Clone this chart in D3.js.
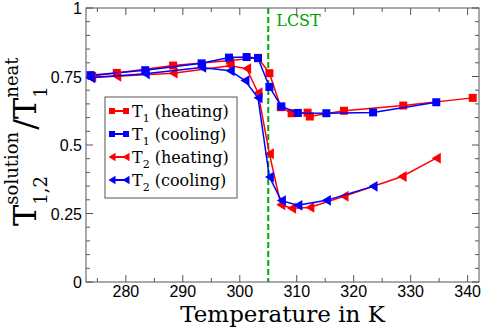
<!DOCTYPE html>
<html><head><meta charset="utf-8">
<script src="https://cdn.jsdelivr.net/npm/d3@7"></script>
<style>
body{margin:0;background:#fff;}
svg{display:block;}
.serif{font-family:"DejaVu Serif",serif;}
.sans{font-family:"Liberation Sans",Arial,sans-serif;}
</style></head>
<body>
<svg id="c" width="484" height="330"></svg>
<script>
// ---- data ----
const t1HeatT = [274.0, 278.4, 288.3, 298.3, 303.2, 305.2, 307.2, 309.1, 311.9, 312.3, 318.3, 328.7, 340.9];
const t1HeatV = [0.752, 0.763, 0.790, 0.808, 0.818, 0.762, 0.638, 0.616, 0.618, 0.604, 0.625, 0.644, 0.672];
const t1CoolT = [273.8, 283.4, 293.3, 298.1, 301.2, 303.2, 305.2, 307.3, 310.2, 315.2, 323.4, 334.5];
const t1CoolV = [0.755, 0.773, 0.798, 0.819, 0.821, 0.817, 0.712, 0.641, 0.617, 0.616, 0.619, 0.656];
const t2HeatT = [274.0, 278.4, 288.3, 298.3, 301.2, 303.2, 305.2, 307.2, 309.1, 312.3, 318.3, 328.5, 334.5];
const t2HeatV = [0.748, 0.751, 0.762, 0.789, 0.779, 0.691, 0.468, 0.282, 0.269, 0.272, 0.313, 0.385, 0.452];
const t2CoolT = [273.8, 283.4, 293.3, 298.3, 300.9, 303.2, 305.2, 307.3, 310.2, 315.2, 323.4];
const t2CoolV = [0.745, 0.760, 0.783, 0.771, 0.735, 0.672, 0.383, 0.297, 0.280, 0.298, 0.349];
const xTicks = [280, 290, 300, 310, 320, 330, 340];
const yTicks = [0, 0.25, 0.5, 0.75, 1];
const yTickLabels = ["0", "0.25", "0.5", "0.75", "1"];
const legendLabels = [["T","1"," (heating)"],["T","1"," (cooling)"],["T","2"," (heating)"],["T","2"," (cooling)"]];
const lcst = 305;

const series = [
  {T:t1HeatT, V:t1HeatV, color:"#ff0000", shape:"square"},
  {T:t1CoolT, V:t1CoolV, color:"#0000ff", shape:"square"},
  {T:t2HeatT, V:t2HeatV, color:"#ff0000", shape:"tri"},
  {T:t2CoolT, V:t2CoolV, color:"#0000ff", shape:"tri"}
];

const L=86, R=479, Tp=8, B=282;
const svg = d3.select("#c");
const x = d3.scaleLinear().domain([273, 342]).range([L, R]);
const y = d3.scaleLinear().domain([0, 1]).range([B, Tp]);

// frame
svg.append("rect").attr("x",L).attr("y",Tp).attr("width",R-L).attr("height",B-Tp)
  .attr("fill","none").attr("stroke","#555").attr("stroke-width",1);

// ticks (inside, all four sides)
const xMinor = d3.range(275, 342, 5).filter(v=>v%10!==0);
const yMinor = d3.range(0.05, 1, 0.05).filter(v=>Math.abs(v/0.25-Math.round(v/0.25))>1e-6);
const tg = svg.append("g").attr("stroke","#555").attr("stroke-width",1);
function vt(v,len){
  tg.append("line").attr("x1",x(v)).attr("x2",x(v)).attr("y1",B).attr("y2",B-len);
  tg.append("line").attr("x1",x(v)).attr("x2",x(v)).attr("y1",Tp).attr("y2",Tp+len);
}
function ht(v,len){
  tg.append("line").attr("y1",y(v)).attr("y2",y(v)).attr("x1",L).attr("x2",L+len);
  tg.append("line").attr("y1",y(v)).attr("y2",y(v)).attr("x1",R).attr("x2",R-len);
}
xTicks.forEach(v=>vt(v,7)); xMinor.forEach(v=>vt(v,4));
yTicks.forEach(v=>ht(v,7)); yMinor.forEach(v=>ht(v,4));

// tick labels
svg.append("g").selectAll("text").data(xTicks).join("text").attr("class","sans")
  .attr("x",d=>x(d)).attr("y",297).attr("text-anchor","middle").style("font-size","16px").text(d=>d);
svg.append("g").selectAll("text").data(yTicks).join("text").attr("class","sans")
  .attr("x",82).attr("y",d=>y(d)+6).attr("text-anchor","end").style("font-size","16px").text((d,i)=>yTickLabels[i]);

// LCST line
svg.append("line").attr("x1",x(lcst)).attr("x2",x(lcst)).attr("y1",Tp).attr("y2",B)
  .attr("stroke","#00aa00").attr("stroke-width",2).attr("stroke-dasharray","6,3");
svg.append("text").attr("class","serif").attr("x",x(lcst)+8).attr("y",26).attr("fill","#00a000")
  .style("font-size","16px").text("LCST");

// markers
function marker(g, shape, cx, cy, color, s){
  if(shape==="square"){
    g.append("rect").attr("x",cx-s/2).attr("y",cy-s/2).attr("width",s).attr("height",s).attr("fill",color);
  } else {
    const h=s*0.6;
    g.append("path").attr("d",`M${cx-s/2},${cy}L${cx+s/2},${cy-h}L${cx+s/2},${cy+h}Z`).attr("fill",color);
  }
}
const line = d3.line().x(d=>x(d[0])).y(d=>y(d[1]));
series.forEach(s=>{
  const pts = s.T.map((t,i)=>[t,s.V[i]]);
  const g = svg.append("g");
  g.append("path").attr("d",line(pts)).attr("fill","none").attr("stroke",s.color).attr("stroke-width",1.5);
  pts.forEach(p=>marker(g,s.shape,x(p[0]),y(p[1]),s.color,s.shape==="square"?8:9));
});

// legend
const lg = svg.append("g");
lg.append("rect").attr("x",105).attr("y",97).attr("width",132).attr("height",101)
  .attr("fill","#fff").attr("stroke","#555").attr("stroke-width",1);
const rowY = [111, 134, 157, 180];
series.forEach((s,i)=>{
  const yy = rowY[i];
  lg.append("line").attr("x1",111).attr("x2",127).attr("y1",yy).attr("y2",yy).attr("stroke",s.color).attr("stroke-width",2);
  marker(lg,s.shape,112,yy,s.color,s.shape==="square"?6:7);
  marker(lg,s.shape,126,yy,s.color,s.shape==="square"?6:7);
  const t = lg.append("text").attr("class","serif").attr("x",132).attr("y",yy+6).style("font-size","16px");
  t.append("tspan").text(legendLabels[i][0]);
  t.append("tspan").attr("dy",5).style("font-size","11px").text(legendLabels[i][1]);
  t.append("tspan").attr("dy",-5).text(legendLabels[i][2]);
});

// x axis title
svg.append("text").attr("class","serif").attr("x",(L+R)/2).attr("y",322).attr("text-anchor","middle")
  .style("font-size","23px").text("Temperature in K");

// y axis title
const yl = svg.append("g").attr("class","serif").attr("transform","translate(36,0) rotate(-90)");
let pos = -226;
function piece(txt,size,dy){
  const t = yl.append("text").attr("x",pos).attr("y",dy).style("font-size",size+"px").text(txt);
  return t.node().getComputedTextLength();
}
pos += piece("T",32,0);
{ const a=piece("solution",18,-18), b=piece("1,2",18,11); pos += Math.max(a,b)+2; }
pos += piece("/",32,0);
pos += piece("T",32,0);
{ piece("neat",18,-18); piece("1",18,11); }
</script>
</body></html>
